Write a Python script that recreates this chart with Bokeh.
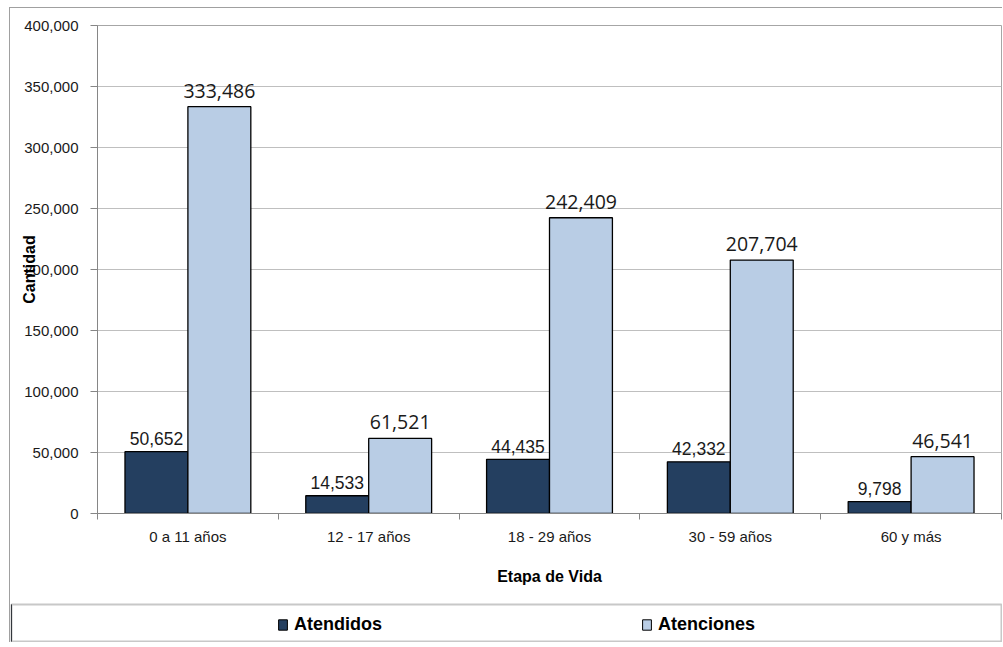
import numpy as np
from bokeh.plotting import figure
from bokeh.models import (FixedTicker, NumeralTickFormatter, Range1d, Legend,
                          LegendItem, ColumnDataSource)
from bokeh.layouts import column
from bokeh.core.properties import value
from bokeh.embed import file_html
from bokeh.resources import INLINE

# ---- data ----
categories = ["0 a 11 años", "12 - 17 años", "18 - 29 años", "30 - 59 años", "60 y más"]
atendidos = [50652, 14533, 44435, 42332, 9798]
atenciones = [333486, 61521, 242409, 207704, 46541]
series_names = ["Atendidos", "Atenciones"]
y_ticks = [0, 50000, 100000, 150000, 200000, 250000, 300000, 350000, 400000]

DARK = "#243F60"
LIGHT = "#B9CDE5"
FONT = "Liberation Sans"

W = 992
idx = np.arange(1, len(categories) + 1)
bw = 0.348

src_a = ColumnDataSource(dict(x=idx - bw / 2, top=atendidos,
                              lbl=[f"{v:,}" for v in atendidos]))
src_b = ColumnDataSource(dict(x=idx + bw / 2, top=atenciones,
                              lbl=[f"{v:,}" for v in atenciones]))

p = figure(width=W, height=595, output_backend="svg", toolbar_location=None,
           x_range=Range1d(0.5, len(categories) + 0.5),
           y_range=Range1d(0, 400000),
           min_border_left=87, min_border_right=1, min_border_top=17,
           min_border_bottom=90)
p.frame_align = False
p.background_fill_color = "white"
p.border_fill_color = "white"
p.outline_line_color = "#a6a6a6"

p.vbar(x="x", top="top", width=bw, source=src_a, fill_color=DARK,
       line_color="black", line_width=1.3)
p.vbar(x="x", top="top", width=bw, source=src_b, fill_color=LIGHT,
       line_color="black", line_width=1.3)

p.text(x="x", y="top", text="lbl", source=src_a, text_align="center",
       text_baseline="alphabetic", y_offset=-13,
       text_font=value(FONT), text_font_size="17.5px", text_color="#1a1a1a")
p.text(x="x", y="top", text="lbl", source=src_b, text_align="center",
       text_baseline="alphabetic", y_offset=-16,
       text_font=value("Open Sans"), text_font_size="19.5px", text_color="#1a1a1a")

# x axis
p.xaxis.ticker = FixedTicker(ticks=list(idx),
                             minor_ticks=list(np.arange(0.5, len(categories) + 1, 1.0)))
p.xaxis.major_label_overrides = {int(i): c for i, c in zip(idx, categories)}
p.xaxis.major_tick_line_color = None
p.xaxis.major_tick_out = 0
p.xaxis.major_tick_in = 0
p.xaxis.minor_tick_line_color = "#868686"
p.xaxis.minor_tick_out = 6
p.xaxis.minor_tick_in = 0
p.xaxis.axis_line_color = "#868686"
p.xaxis.major_label_standoff = 8
p.xaxis.major_label_text_font = FONT
p.xaxis.major_label_text_font_size = "15px"
p.xaxis.major_label_text_color = "#1a1a1a"
p.xaxis.axis_label = "Etapa de Vida"
p.xaxis.axis_label_text_font = FONT
p.xaxis.axis_label_text_font_style = "bold"
p.xaxis.axis_label_text_font_size = "16px"
p.xaxis.axis_label_text_color = "black"
p.xaxis.axis_label_standoff = 20

# y axis
p.yaxis.ticker = FixedTicker(ticks=y_ticks)
p.yaxis.formatter = NumeralTickFormatter(format="0,0")
p.yaxis.major_tick_out = 7
p.yaxis.major_tick_in = 0
p.yaxis.major_tick_line_color = "#868686"
p.yaxis.minor_tick_line_color = None
p.yaxis.axis_line_color = "#868686"
p.yaxis.major_label_standoff = 12
p.yaxis.major_label_text_font = FONT
p.yaxis.major_label_text_font_size = "15px"
p.yaxis.major_label_text_color = "#1a1a1a"
p.yaxis.axis_label = "Cantidad"
p.yaxis.axis_label_text_font = FONT
p.yaxis.axis_label_text_font_style = "bold"
p.yaxis.axis_label_text_font_size = "16px"
p.yaxis.axis_label_text_color = "black"
p.yaxis.axis_label_standoff = -17

p.xgrid.grid_line_color = None
p.ygrid.grid_line_color = "#bfbfbf"
p.ygrid.grid_line_width = 1

# ---- legend strip ----
q = figure(width=W, height=39, output_backend="svg", toolbar_location=None,
           x_range=Range1d(0, 1), y_range=Range1d(0, 1),
           min_border_left=1, min_border_right=1, min_border_top=1,
           min_border_bottom=1)
q.frame_align = False
q.axis.visible = False
q.grid.visible = False
q.outline_line_color = "#c8c8c8"
q.outline_line_width = 2
# legend swatches (glyphs placed outside the visible range)
r1 = q.vbar(x=[-10], top=[1], width=0.1, fill_color=DARK, line_color="black")
r2 = q.vbar(x=[-10], top=[1], width=0.1, fill_color=LIGHT, line_color="black")
leg = Legend(items=[LegendItem(label=series_names[0], renderers=[r1]),
                    LegendItem(label=series_names[1], renderers=[r2])],
             orientation="horizontal", location=(266, 6),
             padding=0, margin=0, spacing=247,
             glyph_width=11, glyph_height=13, label_standoff=6, label_width=100,
             border_line_color=None, background_fill_alpha=0,
             label_text_font=FONT, label_text_font_style="bold",
             label_text_font_size="18px", label_text_color="black")
q.add_layout(leg, "center")

layout = column(p, q, spacing=0,
                styles={"border-left": "1px solid #a0a0a0",
                        "border-top": "1px solid #a0a0a0",
                        "margin-left": "9px", "margin-top": "7px"})

open("out.html", "w").write(file_html(layout, INLINE))
